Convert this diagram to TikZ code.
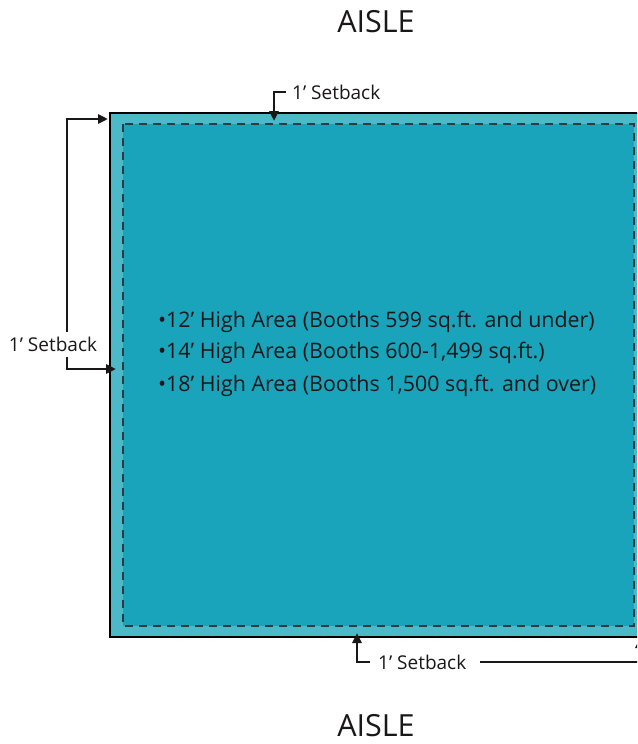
\documentclass[tikz,border=0pt]{standalone}
\usepackage{fontspec}
\setmainfont{Open Sans}
\usetikzlibrary{arrows.meta}
\definecolor{bandteal}{HTML}{4CB9C9}
\definecolor{floorteal}{HTML}{1AA4BB}
\definecolor{dashgray}{HTML}{2E3A3E}
\definecolor{ink}{HTML}{1A1718}
\tikzset{
  x=1pt, y=-1pt,
  lead/.style={draw=ink, line width=2.8pt, -{Triangle[length=10pt,width=9pt]}},
  lbl/.style={font=\fontsize{19}{22}\selectfont, text=ink, inner sep=0pt},
  aisle/.style={font=\fontsize{30.5}{34}\selectfont, text=ink, inner sep=0pt},
  note/.style={font=\fontsize{21.4}{25}\selectfont, text=ink, inner sep=0pt, anchor=base west}
}
\begin{document}
\begin{tikzpicture}
\useasboundingbox (0,0) rectangle (637,744);
\begin{scope}
\clip (0,0) rectangle (637,744);
% booth footprint with setback band
\fill[bandteal] (110,113) rectangle (660,637);
\fill[floorteal] (123,124) rectangle (634,626);
\draw[dashgray, line width=1.2pt, dash pattern=on 8pt off 6pt] (123,124) rectangle (634,626);
\draw[black, line width=1.3pt] (660,113) -- (110,113) -- (110,637) -- (660,637);

% aisle labels
\node[aisle] (aisleTop) at (376,22) {AISLE};
\node[aisle] (aisleBot) at (376,726) {AISLE};

% top setback
\node[lbl, anchor=west] (topLbl) at (292,92) {1’ Setback};
\coordinate (topTip) at (274,121);
\draw[lead] (286,92) -- (274,92) -- (topTip);

% left setback
\node[lbl] (leftLbl) at (53,344) {1’ Setback};
\coordinate (leftTop) at (108,119);
\coordinate (leftBot) at (116,369);
\draw[lead] (67,332) -- (67,119) -- (leftTop);
\draw[lead] (67,357) -- (67,369) -- (leftBot);

% bottom setback
\node[lbl, anchor=west] (botLbl) at (378,662) {1’ Setback};
\coordinate (botTip) at (357,633);
\draw[lead] (370,662) -- (357,662) -- (botTip);
\coordinate (rightTip) at (640,638);
\draw[lead] (480,662) -- (640,662) -- (rightTip);

% height zones
\node[note] (n1) at (158,327) {•12’ High Area (Booths 599 sq.ft. and under)};
\node[note] (n2) at (158,358.5) {•14’ High Area (Booths 600-1,499 sq.ft.)};
\node[note] (n3) at (158,391) {•18’ High Area (Booths 1,500 sq.ft. and over)};
\end{scope}
\end{tikzpicture}
\end{document}
